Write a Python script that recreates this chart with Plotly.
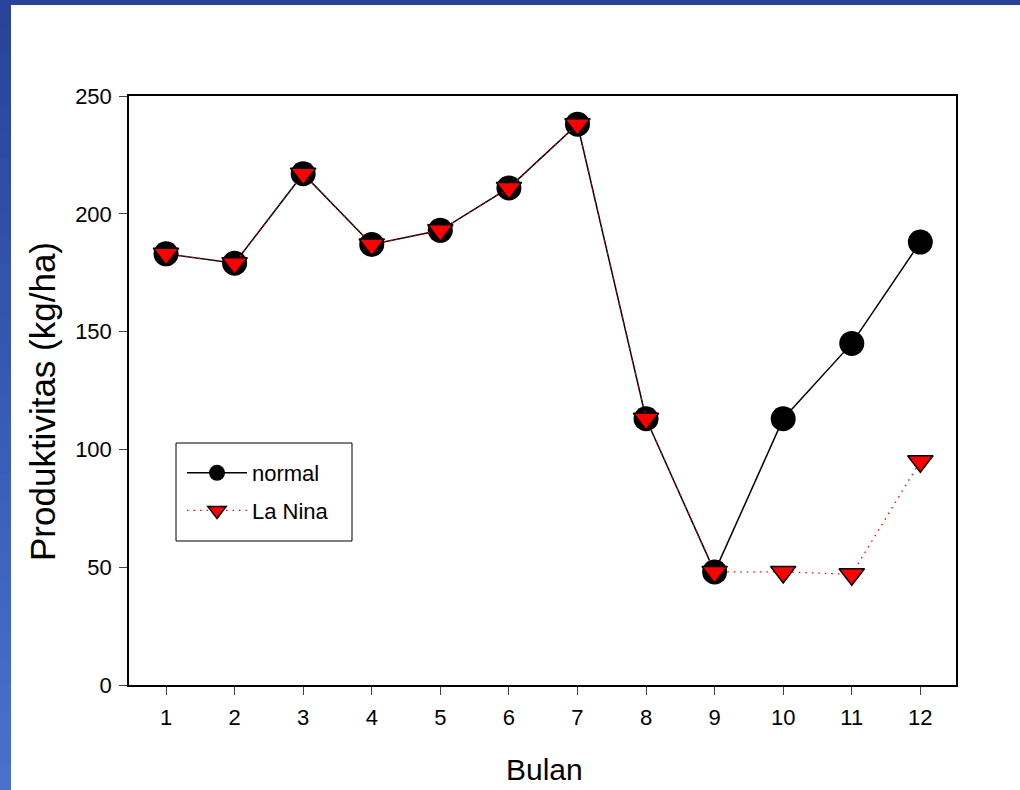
import plotly.graph_objects as go

bulan = [1, 2, 3, 4, 5, 6, 7, 8, 9, 10, 11, 12]
normal = [183, 179, 217, 187, 193, 211, 238, 113, 48, 113, 145, 188]
la_nina = [183, 179, 217, 187, 193, 211, 238, 113, 48, 48, 47, 95]
y_ticks = [0, 50, 100, 150, 200, 250]

W, H = 1020, 790
L, R, T, B = 129, 64, 96, 105
pw, ph = W - L - R, H - T - B

def px_x(p):
    return (p - L) / pw

def px_y(p):
    return (H - B - p) / ph

fig = go.Figure()
fig.add_trace(go.Scatter(
    x=bulan, y=normal, name="normal", mode="lines+markers", legendgroup="a",
    line=dict(color="black", width=1.5),
    marker=dict(symbol="circle", size=25, color="black", line=dict(color="black", width=0)),
))
fig.add_trace(go.Scatter(
    x=bulan, y=la_nina, name="La Nina", mode="lines+markers", legendgroup="b",
    line=dict(color="red", width=1.3, dash="1.5px,5px"),
    marker=dict(symbol="triangle-down", size=22, color="red", line=dict(color="black", width=1.5)),
))

shapes = []
n = 30
c0 = (39, 68, 154)
c1 = (74, 112, 207)
for i in range(n):
    t = i / (n - 1)
    col = "rgb(%d,%d,%d)" % tuple(int(c0[k] + (c1[k] - c0[k]) * t) for k in range(3))
    y0p = i * H / n
    y1p = (i + 1) * H / n + 1
    shapes.append(dict(type="rect", xref="paper", yref="paper",
                       x0=px_x(0), x1=px_x(11), y0=px_y(y1p), y1=px_y(y0p),
                       fillcolor=col, line=dict(width=0), layer="below"))
shapes.append(dict(type="rect", xref="paper", yref="paper",
                   x0=px_x(0), x1=px_x(W), y0=px_y(5), y1=px_y(0),
                   fillcolor="rgb(39,68,154)", line=dict(width=0), layer="below"))
# legend frame
shapes.append(dict(type="rect", xref="paper", yref="paper",
                   x0=px_x(176), x1=px_x(352), y0=px_y(541), y1=px_y(443),
                   fillcolor="white", line=dict(color="black", width=1), layer="below"))

annotations = [
    dict(text="Bulan", xref="paper", yref="paper", x=px_x(544), y=px_y(769),
         xanchor="center", yanchor="middle", showarrow=False, font=dict(size=30)),
    dict(text="Produktivitas (kg/ha)", xref="paper", yref="paper", x=px_x(42), y=px_y(402),
         xanchor="center", yanchor="middle", showarrow=False, textangle=-90, font=dict(size=35)),
]

fig.update_layout(
    width=W, height=H,
    margin=dict(l=L, r=R, t=T, b=B),
    paper_bgcolor="white", plot_bgcolor="white",
    font=dict(family="Liberation Sans, Arial, sans-serif", color="black", size=22),
    showlegend=True,
    legend=dict(x=px_x(182), y=px_y(452), xanchor="left", yanchor="top",
                borderwidth=0, bgcolor="rgba(0,0,0,0)",
                font=dict(size=22), tracegroupgap=6, itemwidth=60),
    xaxis=dict(range=[0.46, 12.52], tickvals=bulan, ticks="outside", ticklen=8,
               showline=True, linecolor="black", linewidth=1.5, mirror=True,
               showgrid=False, zeroline=False, tickfont=dict(size=22),
               ticklabelstandoff=4),
    yaxis=dict(range=[0, 250], tickvals=y_ticks, ticks="outside", ticklen=8,
               showline=True, linecolor="black", linewidth=1.5, mirror=True,
               showgrid=False, zeroline=False, tickfont=dict(size=22),
               ticklabelstandoff=3),
    shapes=shapes,
    annotations=annotations,
)

fig.write_html("out.html", config={"displayModeBar": False},
               post_script="document.body.style.margin='0';document.body.style.padding='0';")
